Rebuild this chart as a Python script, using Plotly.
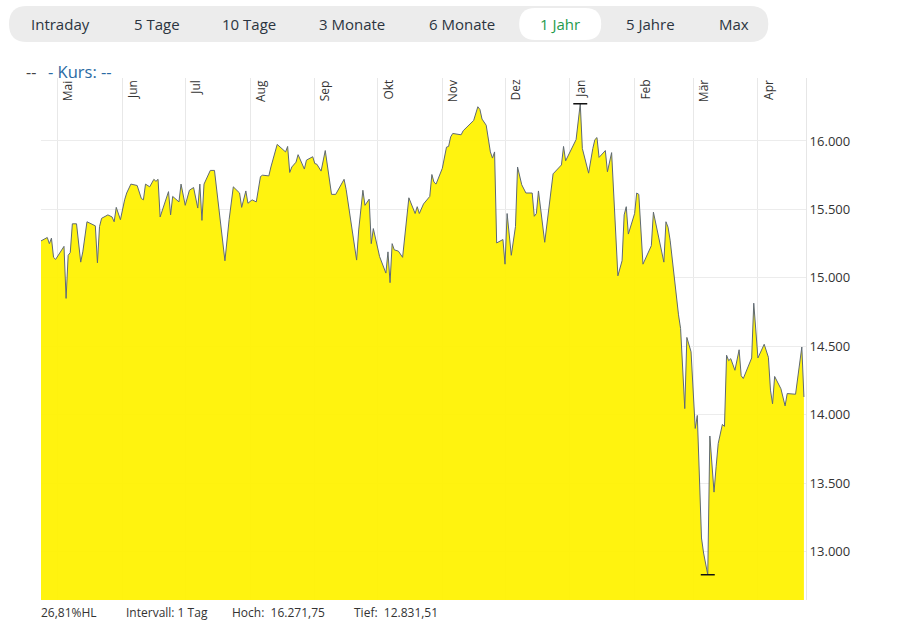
import plotly.graph_objects as go

# ---------------- data ----------------
dates = [
    "2021-04-23", "2021-04-26", "2021-04-27", "2021-04-28", "2021-04-29", "2021-04-30",
    "2021-05-04", "2021-05-05", "2021-05-06", "2021-05-07", "2021-05-08", "2021-05-10",
    "2021-05-12", "2021-05-13", "2021-05-15", "2021-05-19", "2021-05-20", "2021-05-21",
    "2021-05-22", "2021-05-25", "2021-05-27", "2021-05-28", "2021-05-29", "2021-05-31",
    "2021-06-02", "2021-06-03", "2021-06-05", "2021-06-08", "2021-06-10", "2021-06-11",
    "2021-06-12", "2021-06-14", "2021-06-16", "2021-06-17", "2021-06-18", "2021-06-19",
    "2021-06-23", "2021-06-24", "2021-06-25", "2021-06-28", "2021-06-29", "2021-07-01",
    "2021-07-03", "2021-07-05", "2021-07-07", "2021-07-08", "2021-07-09", "2021-07-10",
    "2021-07-13", "2021-07-15", "2021-07-20", "2021-07-22", "2021-07-24", "2021-07-27",
    "2021-07-28", "2021-07-30", "2021-07-31", "2021-08-02", "2021-08-04", "2021-08-06",
    "2021-08-07", "2021-08-10", "2021-08-11", "2021-08-14", "2021-08-18", "2021-08-19",
    "2021-08-20", "2021-08-21", "2021-08-23", "2021-08-24", "2021-08-27", "2021-08-28",
    "2021-08-31", "2021-09-01", "2021-09-02", "2021-09-04", "2021-09-06", "2021-09-09",
    "2021-09-11", "2021-09-15", "2021-09-16", "2021-09-18", "2021-09-21", "2021-09-22",
    "2021-09-24", "2021-09-25", "2021-09-27", "2021-09-28", "2021-09-29", "2021-10-02",
    "2021-10-05", "2021-10-06", "2021-10-07", "2021-10-08", "2021-10-09", "2021-10-11",
    "2021-10-13", "2021-10-16", "2021-10-19", "2021-10-20", "2021-10-21", "2021-10-23",
    "2021-10-26", "2021-10-27", "2021-10-28", "2021-10-29", "2021-11-01", "2021-11-03",
    "2021-11-04", "2021-11-05", "2021-11-06", "2021-11-10", "2021-11-11", "2021-11-16",
    "2021-11-18", "2021-11-19", "2021-11-20", "2021-11-22", "2021-11-24", "2021-11-25",
    "2021-11-26", "2021-11-27", "2021-11-30", "2021-12-01", "2021-12-02", "2021-12-04",
    "2021-12-06", "2021-12-07", "2021-12-09", "2021-12-11", "2021-12-14", "2021-12-15",
    "2021-12-16", "2021-12-17", "2021-12-20", "2021-12-24", "2021-12-28", "2021-12-29",
    "2021-12-30", "2022-01-04", "2022-01-06", "2022-01-07", "2022-01-10", "2022-01-12",
    "2022-01-13", "2022-01-14", "2022-01-15", "2022-01-18", "2022-01-19", "2022-01-21",
    "2022-01-24", "2022-01-26", "2022-01-27", "2022-01-28", "2022-01-29", "2022-02-01",
    "2022-02-02", "2022-02-03", "2022-02-05", "2022-02-09", "2022-02-10", "2022-02-15",
    "2022-02-16", "2022-02-17", "2022-02-18", "2022-02-22", "2022-02-23", "2022-02-25",
    "2022-02-26", "2022-02-28", "2022-03-02", "2022-03-03", "2022-03-05", "2022-03-06",
    "2022-03-08", "2022-03-09", "2022-03-11", "2022-03-12", "2022-03-13", "2022-03-15",
    "2022-03-16", "2022-03-17", "2022-03-18", "2022-03-19", "2022-03-21", "2022-03-23",
    "2022-03-24", "2022-03-25", "2022-03-29", "2022-03-30", "2022-04-01", "2022-04-04",
    "2022-04-06", "2022-04-07", "2022-04-08", "2022-04-09", "2022-04-12", "2022-04-14",
    "2022-04-15", "2022-04-19", "2022-04-22", "2022-04-23",
]

kurs = [
    15270, 15295, 15250, 15290, 15150, 15135,
    15230, 14850, 15165, 15185, 15395, 15395,
    15115, 15190, 15410, 15380, 15110, 15375,
    15435, 15460, 15445, 15410, 15515, 15425,
    15570, 15620, 15685, 15675, 15580, 15570,
    15685, 15665, 15720, 15705, 15720, 15445,
    15630, 15460, 15595, 15555, 15685, 15530,
    15640, 15660, 15510, 15685, 15420, 15685,
    15785, 15785, 15125, 15425, 15665, 15620,
    15515, 15635, 15545, 15570, 15555, 15740,
    15750, 15745, 15810, 15975, 15920, 15960,
    15770, 15810, 15845, 15900, 15795, 15860,
    15885, 15835, 15830, 15780, 15930, 15610,
    15610, 15720, 15645, 15445, 15130, 15350,
    15640, 15530, 15575, 15250, 15360, 15155,
    15035, 15190, 14965, 15250, 15205, 15195,
    15150, 15585, 15470, 15520, 15470, 15540,
    15595, 15755, 15700, 15685, 15800, 15955,
    15960, 16030, 16055, 16045, 16075, 16150,
    16250, 16230, 16160, 16115, 15920, 15875,
    15920, 15255, 15280, 15100, 15470, 15165,
    15375, 15810, 15680, 15620, 15620, 15450,
    15470, 15635, 15260, 15760, 15825, 15960,
    15855, 16010, 16271.75, 15945, 15765, 15945,
    16010, 16025, 15880, 15930, 15775, 15915,
    15015, 15125, 15460, 15520, 15320, 15470,
    15620, 15610, 15100, 15235, 15480, 15115,
    15410, 15370, 15275, 14730, 14630, 14045,
    14565, 14460, 13900, 13995, 13100, 12990,
    12831.51, 13845, 13435, 13620, 13790, 13930,
    13915, 14435, 14395, 14410, 14325, 14475,
    14285, 14265, 14415, 14815, 14415, 14515,
    14420, 14180, 14080, 14280, 14190, 14065,
    14155, 14150, 14495, 14130,
]

month_dates = ["2021-05-01", "2021-06-01", "2021-07-01", "2021-08-01", "2021-09-01",
               "2021-10-01", "2021-11-01", "2021-12-01", "2022-01-01", "2022-02-01",
               "2022-03-01", "2022-04-01"]
month_labels = ["Mai", "Jun", "Jul", "Aug", "Sep", "Okt", "Nov", "Dez", "Jan", "Feb",
                "Mär", "Apr"]
y_ticks = [13000, 13500, 14000, 14500, 15000, 15500, 16000]
x_range = ["2021-04-23", "2022-04-24"]
y_range = [12647, 16460]

buttons = ["Intraday", "5 Tage", "10 Tage", "3 Monate", "6 Monate", "1 Jahr", "5 Jahre", "Max"]
selected_button = "1 Jahr"
interval_text = "1 Tag"

# ---------------- layout helpers ----------------
FIG_W, FIG_H = 907, 623
L, R, T, B = 41, 805.7, 78, 600


def px(x):
    return (x - L) / (R - L)


def py(y):
    return (B - y) / (B - T)


def rounded_path(x0, y0, x1, y1, r):
    def p(x, y):
        return f"{px(x):.5f},{py(y):.5f}"
    return (f"M{p(x0 + r, y0)} L{p(x1 - r, y0)} Q{p(x1, y0)} {p(x1, y0 + r)} "
            f"L{p(x1, y1 - r)} Q{p(x1, y1)} {p(x1 - r, y1)} L{p(x0 + r, y1)} "
            f"Q{p(x0, y1)} {p(x0, y1 - r)} L{p(x0, y0 + r)} Q{p(x0, y0)} {p(x0 + r, y0)} Z")


def de_num(v, dec=2):
    s = f"{v:,.{dec}f}"
    return s.replace(",", "X").replace(".", ",").replace("X", ".")


# ---------------- figure ----------------
fig = go.Figure()
fig.add_trace(go.Scatter(
    x=dates, y=kurs, mode="lines",
    line=dict(color="#5f6973", width=1),
    fill="tozeroy", fillcolor="rgba(255,242,0,0.94)",
    hoverinfo="x+y", showlegend=False,
))

hi = max(kurs)
lo = min(kurs)
hi_date = dates[kurs.index(hi)]
lo_date = dates[kurs.index(lo)]
fig.add_trace(go.Scatter(
    x=[hi_date, lo_date], y=[hi, lo], mode="markers",
    marker=dict(symbol="line-ew", size=10, line=dict(color="#111111", width=1.5)),
    showlegend=False, hoverinfo="skip",
))

annotations = []
shapes = []

# button bar
shapes.append(dict(type="path", xref="paper", yref="paper",
                   path=rounded_path(9, 6, 768, 42, 18),
                   fillcolor="#ececec", line=dict(width=0), layer="below"))
shapes.append(dict(type="path", xref="paper", yref="paper",
                   path=rounded_path(519, 8, 601, 40, 16),
                   fillcolor="#ffffff", line=dict(width=0), layer="below"))
button_centers = [60.5, 156.5, 249, 352, 462, 560, 650.5, 733.5]
for label, cx in zip(buttons, button_centers):
    annotations.append(dict(
        text=label, x=px(cx), y=py(24), xref="paper", yref="paper",
        xanchor="center", yanchor="middle", showarrow=False,
        font=dict(family="Open Sans", size=15,
                  color="#1f9a4c" if label == selected_button else "#2b3440"),
    ))

# legend-like header
annotations.append(dict(text="--", x=px(24), y=py(71.5), xref="paper", yref="paper",
                        xanchor="left", yanchor="middle", showarrow=False,
                        font=dict(family="Open Sans", size=16, color="#444444")))
annotations.append(dict(text="- Kurs: --", x=px(46), y=py(71.5), xref="paper", yref="paper",
                        xanchor="left", yanchor="middle", showarrow=False,
                        font=dict(family="Open Sans", size=16.5, color="#2b6aa3")))

# month labels (rotated, inside top)
for d, lab in zip(month_dates, month_labels):
    annotations.append(dict(text=lab, x=d, xref="x", y=1, yref="paper",
                            xanchor="center", yanchor="top", xshift=10, yshift=0,
                            textangle=-90, showarrow=False,
                            font=dict(family="Open Sans", size=12, color="#333333")))

# footer
pct = (hi - lo) / lo * 100
footer = [
    (f"{de_num(pct)}%HL", 39),
    (f"Intervall: {interval_text}", 124),
    (f"Hoch:\u00a0 {de_num(hi)}", 230),
    (f"Tief:\u00a0 {de_num(lo)}", 352),
]
for txt, x0 in footer:
    annotations.append(dict(text=txt, x=px(x0), y=py(612.5), xref="paper", yref="paper",
                            xanchor="left", yanchor="middle", showarrow=False,
                            font=dict(family="Open Sans", size=12, color="#333333")))

fig.update_layout(
    width=FIG_W, height=FIG_H,
    margin=dict(l=L, r=FIG_W - R, t=T, b=FIG_H - B),
    paper_bgcolor="white", plot_bgcolor="white",
    separators=",.",
    showlegend=False,
    annotations=annotations,
    shapes=shapes,
    xaxis=dict(
        type="date", range=x_range,
        tickvals=month_dates, showticklabels=False,
        showgrid=True, gridcolor="#e8e8e8", gridwidth=1,
        zeroline=False, showline=False, ticks="",
    ),
    yaxis=dict(
        side="right", range=y_range,
        tickvals=y_ticks, tickformat=",.0f",
        showgrid=True, gridcolor="#ececec", gridwidth=1,
        zeroline=False, showline=True, linecolor="#e6e6e6", linewidth=1,
        ticks="", tickfont=dict(family="Open Sans", size=13, color="#333333"),
    ),
)

fig.write_html("out.html", config={"displayModeBar": False},
               post_script="document.body.style.margin='0';")
